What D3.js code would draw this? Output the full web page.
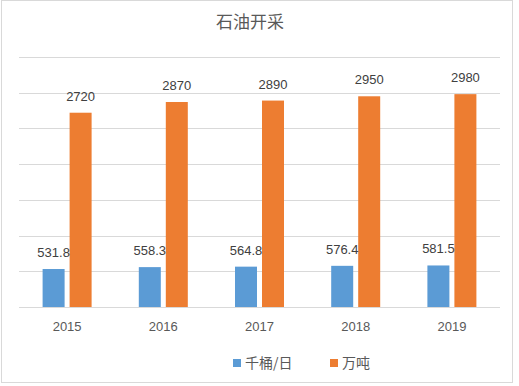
<!DOCTYPE html>
<html>
<head>
<meta charset="utf-8">
<script src="https://cdn.jsdelivr.net/npm/d3@7/dist/d3.min.js"></script>
<style>
  body { margin: 0; background: #fff; }
  svg { display: block; }
</style>
</head>
<body>
<div id="chart"></div>
<script>
// data
var years = ["2015", "2016", "2017", "2018", "2019"];
var seriesNames = ["千桶/日", "万吨"];
var barrelsPerDay = [531.8, 558.3, 564.8, 576.4, 581.5];
var tons = [2720, 2870, 2890, 2950, 2980];
var yTicks = [0, 500, 1000, 1500, 2000, 2500, 3000, 3500];
var colors = ["#5B9BD5", "#ED7D31"];

var W = 519, H = 386;
var margin = {top: 57, right: 19, bottom: 79, left: 19};
var width = 500 - margin.left,
    height = 307 - margin.top;

var svg = d3.select("#chart").append("svg")
  .attr("width", W)
  .attr("height", H);

// outer frame
svg.append("rect")
  .attr("x", 1.5).attr("y", 0.5)
  .attr("width", 511).attr("height", 382)
  .attr("fill", "#fff")
  .attr("stroke", "#d9d9d9");

// title
svg.append("text")
  .attr("x", 250).attr("y", 28)
  .attr("text-anchor", "middle")
  .style("font-family", "'Noto Sans CJK SC', sans-serif")
  .style("font-size", "17px")
  .attr("fill", "#595959")
  .text("石油开采");

var g = svg.append("g")
  .attr("transform", "translate(" + margin.left + "," + margin.top + ")");

// scales
var x0 = d3.scaleBand().domain(years).range([0, width]).padding(0);
var groupW = 49;
var x1 = d3.scaleBand().domain(seriesNames).range([0, groupW]).paddingInner(5 / 27).paddingOuter(0);
var y = d3.scaleLinear().domain([0, 3500]).range([height, 0]);

// gridlines
g.selectAll("line.grid")
  .data(yTicks)
  .enter().append("line")
  .attr("class", "grid")
  .attr("x1", 0).attr("x2", width)
  .attr("y1", function(d) { return Math.round(y(d)) + 0.5; })
  .attr("y2", function(d) { return Math.round(y(d)) + 0.5; })
  .attr("stroke", "#d9d9d9")
  .attr("stroke-width", 1);

// rows for bars
var rows = years.map(function(yr, i) {
  return [
    {year: yr, s: seriesNames[0], v: barrelsPerDay[i], c: colors[0]},
    {year: yr, s: seriesNames[1], v: tons[i], c: colors[1]}
  ];
});

var groups = g.selectAll("g.year")
  .data(rows)
  .enter().append("g")
  .attr("class", "year")
  .attr("transform", function(d) {
    return "translate(" + (x0(d[0].year) + (x0.bandwidth() - groupW) / 2) + ",0)";
  });

groups.selectAll("rect")
  .data(function(d) { return d; })
  .enter().append("rect")
  .attr("x", function(d) { return x1(d.s); })
  .attr("y", function(d) { return y(d.v); })
  .attr("width", x1.bandwidth())
  .attr("height", function(d) { return height - y(d.v); })
  .attr("fill", function(d) { return d.c; });

groups.selectAll("text")
  .data(function(d) { return d; })
  .enter().append("text")
  .attr("x", function(d) { return x1(d.s) + x1.bandwidth() / 2; })
  .attr("y", function(d) { return y(d.v) - 12; })
  .attr("text-anchor", "middle")
  .style("font-family", "'Liberation Sans', sans-serif")
  .style("font-size", "13px")
  .attr("fill", "#404040")
  .text(function(d) { return d.v; });

// x axis labels
var xAxis = g.append("g")
  .attr("transform", "translate(0," + height + ")")
  .call(d3.axisBottom(x0).tickSize(0).tickPadding(15));
xAxis.select(".domain").remove();
xAxis.selectAll("text")
  .style("font-family", "'Liberation Sans', sans-serif")
  .style("font-size", "13px")
  .attr("fill", "#595959");

// legend
var legendX = [233, 330];
var legend = svg.selectAll("g.legend")
  .data(seriesNames)
  .enter().append("g")
  .attr("class", "legend")
  .attr("transform", function(d, i) { return "translate(" + legendX[i] + ",359)"; });

legend.append("rect")
  .attr("width", 8).attr("height", 8)
  .attr("fill", function(d, i) { return colors[i]; });

legend.append("text")
  .attr("x", 12).attr("y", 9)
  .style("font-family", "'Noto Sans CJK SC', sans-serif")
  .style("font-size", "14px")
  .attr("fill", "#595959")
  .text(function(d) { return d; });
</script>
</body>
</html>
